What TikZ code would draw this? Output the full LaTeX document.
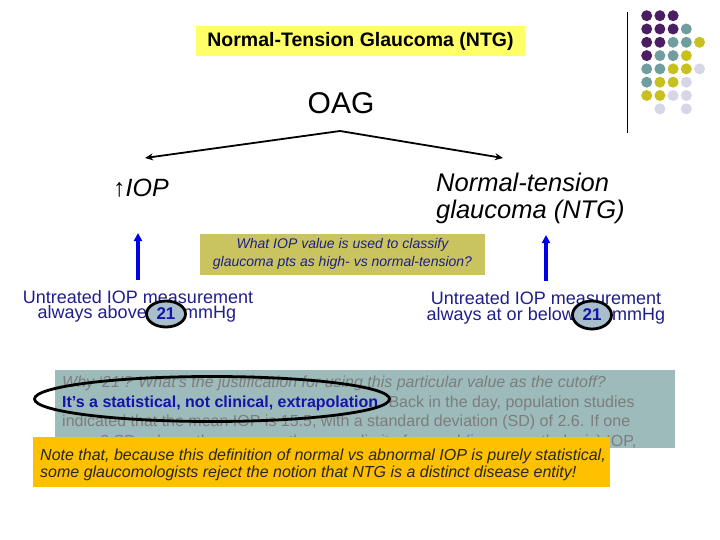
\documentclass[tikz,border=0pt]{standalone}
\usepackage{fontspec}
\setmainfont{Liberation Sans}
\usetikzlibrary{arrows.meta,shapes.geometric}
\definecolor{titley}{RGB}{255,255,102}
\definecolor{olive}{RGB}{201,196,96}
\definecolor{navy}{RGB}{30,30,140}
\definecolor{dblue}{RGB}{20,20,170}
\definecolor{grayb}{RGB}{157,187,187}
\definecolor{graytxt}{RGB}{125,125,125}
\definecolor{orangeb}{RGB}{255,192,0}
\definecolor{circf}{RGB}{168,190,205}
\definecolor{dpurple}{RGB}{75,30,100}
\definecolor{dteal}{RGB}{112,158,160}
\definecolor{dyellow}{RGB}{200,192,30}
\definecolor{dlav}{RGB}{214,214,232}
\tikzset{
  blackarrow/.style={draw=black,line width=1.8pt,-{Stealth[length=8pt,width=7pt]}},
  bluearrow/.style={draw=blue!90!black,line width=3.2pt,-{Triangle[length=8pt,width=8pt]}},
  ring/.style={ellipse,draw=black,line width=2.8pt,fill=circf,inner sep=0pt,minimum width=39pt,minimum height=26pt,text=dblue,font=\bfseries\fontsize{17}{17}\selectfont},
  untr/.style={text=navy,font=\fontsize{18}{18}\selectfont,inner sep=0pt},
  dot/.style={circle,inner sep=0pt,minimum size=11pt},
}
\begin{document}
\begin{tikzpicture}[x=1pt,y=-1pt]
\useasboundingbox (0,0) rectangle (720,540);
% decorative dots
\draw[line width=1pt] (627,12) -- (627,133);
\foreach \c/\r/\col in {0/0/dpurple,1/0/dpurple,2/0/dpurple,
  0/1/dpurple,1/1/dpurple,2/1/dpurple,3/1/dteal,
  0/2/dpurple,1/2/dpurple,2/2/dteal,3/2/dteal,4/2/dyellow,
  0/3/dpurple,1/3/dteal,2/3/dteal,3/3/dyellow,
  0/4/dteal,1/4/dteal,2/4/dyellow,3/4/dyellow,4/4/dlav,
  0/5/dteal,1/5/dyellow,2/5/dyellow,3/5/dlav,
  0/6/dyellow,1/6/dyellow,2/6/dlav,3/6/dlav,
  1/7/dlav,3/7/dlav}
  \node[dot,fill=\col] at (646.7+13.2*\c,15.7+13.3*\r) {};
% title
\node[fill=titley,minimum width=329pt,minimum height=30pt,inner sep=0pt,font=\bfseries\fontsize{19.5}{19.5}\selectfont] (title) at (360.5,41) {Normal-Tension Glaucoma (NTG)};
% OAG
\node[font=\fontsize{30}{30}\selectfont,inner sep=0pt] (oag) at (341,103) {OAG};
\coordinate (apex) at (340,131);
\coordinate (lt) at (145,158);
\coordinate (rt) at (503,158);
\draw[blackarrow] (apex) -- (lt);
\draw[blackarrow] (apex) -- (rt);
\node[font=\fontsize{25}{25}\selectfont,anchor=west,inner sep=0pt] (iop) at (113,188) {↑\textit{IOP}};
\node[anchor=west,align=left,inner sep=0pt,font=\itshape\fontsize{25.5}{27}\selectfont] (ntg) at (436,198) {Normal-tension\\glaucoma (NTG)};
% olive box
\node[fill=olive,minimum width=285pt,minimum height=41pt,inner sep=0pt,align=center,text=navy,font=\itshape\fontsize{14}{18}\selectfont] (q) at (342.5,254) {What IOP value is used to classify\\glaucoma pts as high- vs normal-tension?};
% blue arrows
\coordinate (lb) at (138,280);
\coordinate (lu) at (138,233);
\coordinate (rb) at (546,281);
\coordinate (ru) at (546,235);
\draw[bluearrow] (lb) -- (lu);
\draw[bluearrow] (rb) -- (ru);
% untreated texts
\node[untr] (u1) at (138,297) {Untreated IOP measurement};
\node[untr,anchor=east] (u1a) at (147,314) {always above};
\node[untr,anchor=west] (u1b) at (183,314) {mmHg};
\node[ring] (c1) at (166,314) {21};
\node[untr] (u2) at (546,298) {Untreated IOP measurement};
\node[untr,anchor=east] (u2a) at (575,316) {always at or below};
\node[untr,anchor=west] (u2b) at (612,316) {mmHg};
\node[ring,minimum height=28pt] (c2) at (592,315) {21};
% gray box
\node[fill=grayb,minimum width=620pt,minimum height=78pt,inner sep=0pt] (gb) at (365,409) {};
\node[anchor=north west,align=left,text=graytxt,font=\fontsize{16}{19.5}\selectfont,inner sep=0pt] (gt) at (62,376) {\textit{Why ‘21’? What’s the justification for using this particular value as the cutoff?}\\
\textcolor{dblue}{\textbf{It’s a statistical, not clinical, extrapolation}}. Back in the day, population studies\\
indicated that the mean IOP is 15.5, with a standard deviation (SD) of 2.6. If one\\
uses 2 SDs above the mean as the upper limit of normal (ie, non-pathologic) IOP,};
\node[ellipse,draw=black,line width=2.8pt,minimum width=355pt,minimum height=45pt,inner sep=0pt] (el) at (212,399) {};
% orange box
\node[fill=orangeb,minimum width=577pt,minimum height=50pt,inner sep=0pt] (ob) at (321.5,462) {};
\node[anchor=west,align=left,text=black!85,font=\itshape\fontsize{16}{17.5}\selectfont,inner sep=0pt] (ot) at (40,465) {Note that, because this definition of normal vs abnormal IOP is purely statistical,\\some glaucomologists reject the notion that NTG is a distinct disease entity!};
\end{tikzpicture}
\end{document}
